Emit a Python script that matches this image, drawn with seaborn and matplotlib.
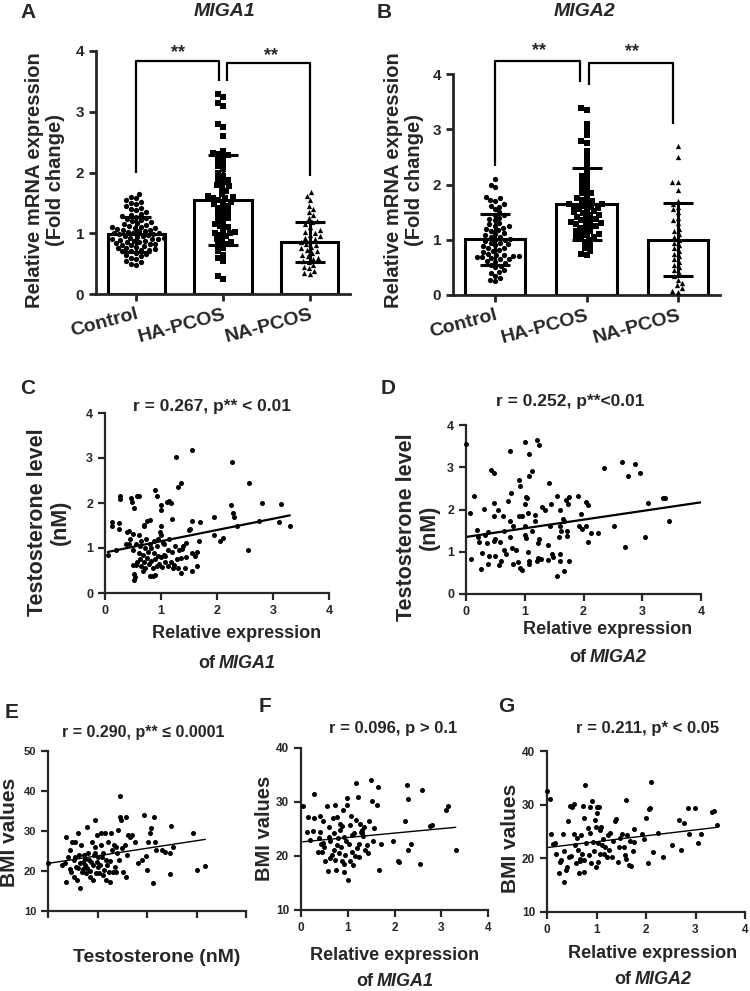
import numpy as np
import matplotlib
matplotlib.use("Agg")
import matplotlib.pyplot as plt
import seaborn as sns

W, H = 750, 991

GROUPS = ["Control", "HA-PCOS", "NA-PCOS"]
MARKERS = ["o", "s", "^"]

# Panel A: MIGA1 relative mRNA (fold change)
miga1_means = [0.98, 1.55, 0.86]
miga1_sd = [0.29, 0.74, 0.33]
miga1_control = [0.48, 0.50, 0.52, 0.55, 0.58, 0.60, 0.62, 0.65, 0.66, 0.68, 0.70, 0.70, 0.72,
                 0.73, 0.74, 0.75, 0.76, 0.78, 0.79, 0.80, 0.81, 0.82, 0.83, 0.84, 0.85, 0.86,
                 0.87, 0.88, 0.89, 0.90, 0.90, 0.91, 0.92, 0.93, 0.94, 0.95, 0.96, 0.97, 0.98,
                 0.99, 1.00, 1.00, 1.01, 1.02, 1.03, 1.04, 1.05, 1.06, 1.07, 1.08, 1.09, 1.10,
                 1.11, 1.12, 1.14, 1.15, 1.17, 1.18, 1.20, 1.22, 1.24, 1.25, 1.27, 1.28, 1.30,
                 1.32, 1.35, 1.38, 1.40, 1.42, 1.45, 1.48, 1.50, 1.52, 1.55, 1.58, 1.60, 1.65]
miga1_ha = [0.25, 0.30, 0.55, 0.60, 0.65, 0.70, 0.75, 0.80, 0.82, 0.85, 0.88, 0.90, 0.95, 0.97,
            1.00, 1.00, 1.02, 1.05, 1.10, 1.12, 1.15, 1.20, 1.22, 1.25, 1.30, 1.32, 1.35, 1.40,
            1.42, 1.45, 1.48, 1.50, 1.52, 1.55, 1.58, 1.58, 1.60, 1.62, 1.65, 1.70, 1.75, 1.78,
            1.80, 1.85, 1.88, 1.90, 1.95, 2.00, 2.05, 2.10, 2.15, 2.20, 2.25, 2.28, 2.30, 2.32,
            2.35, 2.60, 2.75, 2.80, 3.10, 3.15, 3.25, 3.30]
miga1_na = [0.33, 0.35, 0.38, 0.42, 0.45, 0.48, 0.52, 0.55, 0.58, 0.60, 0.62, 0.65, 0.68, 0.70,
            0.72, 0.75, 0.78, 0.80, 0.82, 0.85, 0.88, 0.90, 0.92, 0.95, 0.97, 1.00, 1.02, 1.05,
            1.10, 1.15, 1.18, 1.20, 1.25, 1.30, 1.35, 1.40, 1.45, 1.55, 1.62, 1.68]

# Panel B: MIGA2 relative mRNA (fold change)
miga2_means = [1.01, 1.65, 1.00]
miga2_sd = [0.46, 0.65, 0.66]
miga2_control = [0.25, 0.28, 0.30, 0.35, 0.40, 0.42, 0.45, 0.50, 0.52, 0.55, 0.58, 0.60, 0.62,
                 0.65, 0.65, 0.67, 0.68, 0.68, 0.70, 0.70, 0.72, 0.72, 0.75, 0.78, 0.80, 0.82,
                 0.85, 0.85, 0.88, 0.90, 0.92, 0.95, 0.95, 0.98, 1.00, 1.00, 1.02, 1.05, 1.05,
                 1.08, 1.10, 1.12, 1.15, 1.18, 1.20, 1.22, 1.25, 1.25, 1.28, 1.30, 1.35, 1.38,
                 1.40, 1.45, 1.45, 1.50, 1.55, 1.60, 1.62, 1.65, 1.70, 1.72, 1.75, 1.78, 1.95,
                 2.00, 2.10]
miga2_ha = [0.72, 0.75, 0.80, 0.85, 0.90, 0.95, 1.00, 1.02, 1.05, 1.05, 1.08, 1.10, 1.12, 1.15,
            1.15, 1.20, 1.22, 1.25, 1.25, 1.28, 1.30, 1.30, 1.32, 1.35, 1.35, 1.38, 1.40, 1.42,
            1.45, 1.45, 1.48, 1.50, 1.52, 1.55, 1.55, 1.58, 1.60, 1.60, 1.62, 1.65, 1.65, 1.68,
            1.70, 1.72, 1.75, 1.80, 1.85, 1.85, 1.90, 1.95, 2.00, 2.05, 2.10, 2.15, 2.20, 2.30,
            2.40, 2.50, 2.60, 2.75, 2.78, 2.90, 3.00, 3.10, 3.35, 3.38]
miga2_na = [0.05, 0.08, 0.12, 0.18, 0.22, 0.28, 0.35, 0.40, 0.45, 0.50, 0.55, 0.60, 0.65, 0.70,
            0.75, 0.80, 0.85, 0.90, 0.95, 1.00, 1.05, 1.10, 1.15, 1.20, 1.30, 1.35, 1.40, 1.50,
            1.55, 1.60, 1.65, 1.70, 1.90, 2.05, 2.05, 2.50, 2.70]

# Panel C: MIGA1 expression vs testosterone (nM)
c_points = [(0.05, 0.85), (0.12, 1.58), (0.12, 1.48), (0.20, 0.95), (0.25, 1.55), (0.25, 1.42),
            (0.27, 2.15), (0.27, 2.08), (0.38, 1.08), (0.40, 1.35), (0.42, 1.38), (0.42, 1.10),
            (0.45, 1.20), (0.47, 2.12), (0.48, 2.02), (0.50, 1.32), (0.50, 0.95), (0.52, 1.88),
            (0.50, 0.62), (0.55, 0.62), (0.52, 0.42), (0.53, 0.35), (0.52, 0.28), (0.55, 1.08),
            (0.57, 2.16), (0.60, 2.16), (0.58, 0.68), (0.60, 0.90), (0.60, 1.30), (0.62, 0.75),
            (0.63, 1.05), (0.65, 1.15), (0.65, 0.60), (0.67, 0.50), (0.68, 0.85), (0.70, 1.50),
            (0.70, 1.52), (0.70, 0.70), (0.72, 1.00), (0.72, 0.55), (0.74, 1.20), (0.75, 0.78),
            (0.75, 1.60), (0.77, 0.92), (0.78, 0.65), (0.80, 1.62), (0.80, 1.10), (0.80, 0.38),
            (0.82, 0.72), (0.83, 1.00), (0.85, 0.55), (0.85, 0.38), (0.87, 0.90), (0.88, 1.15),
            (0.90, 2.30), (0.90, 0.75), (0.90, 0.40), (0.92, 2.15), (0.92, 1.05), (0.93, 0.60),
            (0.95, 0.82), (0.95, 1.20), (0.97, 0.65), (0.98, 1.35), (1.00, 1.95), (1.00, 1.85),
            (1.00, 1.50), (1.00, 1.30), (1.00, 0.80), (1.02, 0.58), (1.03, 1.12), (1.05, 0.85),
            (1.05, 1.10), (1.07, 0.68), (1.08, 0.82), (1.10, 2.02), (1.12, 0.60), (1.13, 0.95),
            (1.15, 2.05), (1.15, 1.20), (1.17, 0.70), (1.18, 2.00), (1.20, 1.65), (1.20, 0.92),
            (1.22, 0.55), (1.23, 0.62), (1.25, 1.05), (1.27, 3.02), (1.28, 0.75), (1.30, 2.35),
            (1.30, 0.55), (1.32, 0.95), (1.35, 2.45), (1.35, 0.45), (1.35, 0.78), (1.37, 0.98),
            (1.40, 1.05), (1.42, 0.55), (1.45, 1.12), (1.45, 0.80), (1.50, 1.40), (1.52, 1.42),
            (1.55, 1.60), (1.55, 0.50), (1.55, 3.18), (1.55, 0.88), (1.60, 0.82), (1.65, 0.60),
            (1.65, 0.92), (1.68, 1.15), (1.70, 1.58), (1.95, 1.70), (1.95, 1.30), (2.05, 1.15),
            (2.10, 1.22), (2.25, 1.95), (2.28, 1.78), (2.30, 1.70), (2.27, 2.92), (2.35, 1.48),
            (2.55, 0.95), (2.58, 2.45), (2.80, 2.00), (2.75, 1.60), (3.10, 1.58), (3.15, 1.98),
            (3.30, 1.48)]
c_fit = (0.90, 0.25)   # intercept, slope

# Panel D: MIGA2 expression vs testosterone (nM)
d_points = [(0.00, 3.55), (0.07, 1.92), (0.08, 0.82), (0.13, 2.32), (0.18, 1.52), (0.20, 1.35),
            (0.22, 1.22), (0.25, 0.58), (0.28, 0.98), (0.30, 2.02), (0.32, 1.40), (0.35, 1.20),
            (0.37, 0.72), (0.38, 1.47), (0.40, 0.90), (0.43, 2.93), (0.47, 2.87), (0.47, 2.15),
            (0.48, 1.85), (0.47, 1.25), (0.50, 0.90), (0.50, 1.30), (0.55, 2.00), (0.57, 0.68),
            (0.60, 0.78), (0.58, 1.22), (0.63, 1.85), (0.65, 1.50), (0.65, 1.05), (0.68, 0.95),
            (0.72, 2.20), (0.75, 1.72), (0.75, 3.38), (0.77, 2.40), (0.75, 1.35), (0.78, 1.10),
            (0.80, 0.72), (0.80, 1.62), (0.85, 1.05), (0.88, 0.75), (0.90, 1.85), (0.90, 2.70),
            (0.92, 2.55), (0.92, 0.62), (0.95, 0.57), (0.95, 1.85), (1.00, 3.60), (1.02, 2.30),
            (1.03, 2.28), (1.00, 2.12), (1.00, 1.60), (1.00, 1.40), (1.02, 1.32), (1.05, 1.92),
            (1.05, 1.00), (1.07, 0.78), (1.07, 0.70), (1.08, 3.32), (1.07, 2.80), (1.12, 1.48),
            (1.13, 2.90), (1.17, 1.88), (1.18, 1.72), (1.20, 0.78), (1.22, 0.85), (1.22, 1.20),
            (1.20, 3.65), (1.25, 3.52), (1.25, 1.30), (1.28, 0.82), (1.30, 2.05), (1.35, 2.00),
            (1.40, 1.15), (1.40, 0.80), (1.42, 2.62), (1.43, 1.62), (1.45, 2.12), (1.48, 0.88),
            (1.47, 0.95), (1.55, 2.33), (1.55, 0.42), (1.58, 1.35), (1.60, 2.00), (1.60, 1.62),
            (1.62, 1.48), (1.60, 0.78), (1.60, 0.95), (1.65, 1.78), (1.67, 1.72), (1.67, 0.55),
            (1.70, 2.22), (1.72, 1.48), (1.72, 1.38), (1.73, 2.12), (1.75, 2.30), (1.75, 0.78),
            (1.90, 2.33), (1.93, 1.62), (1.95, 1.90), (1.98, 1.55), (2.05, 2.18), (2.07, 2.10),
            (2.05, 1.62), (2.08, 1.22), (2.12, 1.45), (2.25, 1.45), (2.35, 2.98), (2.52, 1.62),
            (2.65, 3.12), (2.70, 1.12), (2.75, 2.80), (2.88, 3.08), (2.97, 2.86), (3.05, 1.35),
            (3.10, 2.15), (3.35, 2.27), (3.38, 2.28), (3.45, 1.73)]
d_fit = (1.35, 0.205)

# Panel E: testosterone vs BMI
e_points = [(0.00, 22.1), (0.28, 21.4), (0.37, 28.6), (0.37, 17.3), (0.35, 21.9), (0.40, 23.6),
            (0.44, 25.3), (0.45, 20.4), (0.47, 19.8), (0.49, 27.3), (0.52, 22.8), (0.52, 18.6),
            (0.54, 27.2), (0.56, 21.1), (0.59, 17.8), (0.61, 29.4), (0.63, 24.0), (0.64, 21.9),
            (0.65, 15.7), (0.67, 26.5), (0.69, 19.8), (0.71, 22.3), (0.72, 24.0), (0.74, 21.5),
            (0.76, 19.4), (0.78, 31.1), (0.79, 20.7), (0.81, 24.4), (0.83, 22.8), (0.84, 18.6),
            (0.86, 22.3), (0.88, 27.3), (0.90, 21.5), (0.91, 17.8), (0.92, 24.0), (0.94, 32.8),
            (0.95, 26.1), (0.96, 19.4), (0.98, 22.3), (0.99, 29.0), (1.01, 23.6), (1.03, 19.4),
            (1.05, 21.5), (1.07, 26.5), (1.08, 29.4), (1.10, 23.6), (1.11, 19.0), (1.13, 20.3),
            (1.15, 29.6), (1.17, 22.8), (1.18, 17.8), (1.19, 21.5), (1.21, 27.3), (1.23, 19.8),
            (1.26, 17.3), (1.28, 29.4), (1.30, 25.3), (1.31, 19.8), (1.33, 26.5), (1.35, 21.1),
            (1.37, 26.1), (1.38, 19.8), (1.42, 30.3), (1.43, 22.8), (1.45, 33.4), (1.46, 38.8),
            (1.48, 32.8), (1.50, 25.7), (1.52, 19.8), (1.55, 26.5), (1.57, 33.4), (1.58, 18.6),
            (1.60, 24.0), (1.62, 29.0), (1.65, 28.6), (1.69, 29.0), (1.75, 27.3), (1.82, 22.1),
            (1.89, 22.8), (1.94, 34.0), (1.97, 23.8), (1.99, 20.3), (2.02, 27.3), (2.07, 29.4),
            (2.09, 30.7), (2.12, 16.9), (2.14, 33.6), (2.16, 27.3), (2.18, 25.3), (2.31, 25.3),
            (2.36, 24.8), (2.46, 19.3), (2.46, 24.6), (2.49, 31.3), (2.53, 26.1), (2.92, 29.4),
            (3.01, 20.3), (3.18, 21.3), (0.60, 20.8), (0.75, 23.1), (0.85, 20.0), (1.00, 20.9),
            (1.12, 24.6), (0.70, 20.4), (0.95, 24.6), (1.25, 22.4), (0.55, 23.4), (1.40, 24.5)]
e_fit = (21.9, 1.89)

# Panel F: MIGA1 expression vs BMI
f_points = [(0.04, 29.3), (0.14, 27.3), (0.13, 24.4), (0.20, 23.0), (0.27, 31.4), (0.27, 27.1),
            (0.26, 24.7), (0.38, 23.3), (0.40, 27.4), (0.41, 24.4), (0.43, 22.3), (0.36, 20.7),
            (0.45, 20.7), (0.48, 26.4), (0.50, 21.7), (0.52, 19.0), (0.55, 29.3), (0.57, 17.3),
            (0.59, 25.4), (0.63, 22.7), (0.68, 27.0), (0.70, 24.2), (0.71, 21.1), (0.73, 29.4),
            (0.73, 19.3), (0.75, 17.4), (0.78, 27.3), (0.80, 23.3), (0.82, 20.5), (0.84, 24.9),
            (0.85, 21.6), (0.87, 19.0), (0.90, 28.6), (0.91, 23.6), (0.93, 17.1), (0.95, 20.2),
            (0.98, 30.8), (0.99, 29.4), (1.00, 15.6), (1.02, 22.2), (1.04, 19.0), (1.05, 25.7),
            (1.08, 27.4), (1.09, 20.8), (1.12, 18.3), (1.14, 24.2), (1.17, 33.5), (1.18, 26.7),
            (1.19, 21.4), (1.21, 30.9), (1.23, 22.3), (1.25, 19.9), (1.28, 24.5), (1.31, 24.2),
            (1.34, 25.4), (1.37, 21.1), (1.41, 22.0), (1.44, 20.5), (1.46, 26.4), (1.49, 34.1),
            (1.51, 30.1), (1.54, 22.8), (1.56, 25.1), (1.62, 29.4), (1.64, 32.8), (1.66, 17.5),
            (1.71, 22.3), (1.96, 22.8), (2.07, 19.0), (2.10, 18.8), (2.23, 26.4), (2.27, 33.1),
            (2.29, 30.5), (2.29, 21.1), (2.35, 22.2), (2.54, 18.5), (2.58, 32.3), (2.76, 25.6),
            (2.80, 25.7), (3.11, 28.6), (3.15, 29.3), (3.31, 21.2), (0.60, 23.6), (0.66, 20.2),
            (0.77, 22.0), (0.88, 25.6), (0.96, 22.8), (1.10, 23.9), (1.30, 24.8), (1.33, 23.7),
            (0.47, 22.5), (0.62, 19.6), (0.92, 18.6), (1.15, 20.0), (1.27, 26.0), (0.83, 26.0)]
f_fit = (22.6, 0.82)

# Panel G: MIGA2 expression vs BMI
g_points = [(0.00, 32.5), (0.07, 31.1), (0.08, 24.5), (0.13, 22.6), (0.17, 22.8), (0.19, 20.8),
            (0.24, 17.2), (0.26, 19.4), (0.29, 19.7), (0.32, 24.5), (0.34, 15.6), (0.35, 21.3),
            (0.38, 17.8), (0.40, 18.3), (0.42, 26.9), (0.44, 20.3), (0.47, 29.8), (0.48, 20.4),
            (0.50, 29.5), (0.54, 30.1), (0.55, 24.5), (0.57, 22.5), (0.59, 19.1), (0.61, 23.8),
            (0.63, 21.6), (0.65, 17.3), (0.66, 19.9), (0.67, 19.5), (0.69, 24.4), (0.71, 20.9),
            (0.73, 29.8), (0.74, 27.5), (0.74, 19.7), (0.75, 17.5), (0.77, 33.6), (0.79, 22.8),
            (0.82, 25.6), (0.84, 20.6), (0.86, 29.5), (0.87, 24.8), (0.89, 19.2), (0.91, 30.6),
            (0.93, 23.1), (0.94, 21.3), (0.96, 27.2), (0.98, 25.9), (0.99, 18.3), (1.00, 29.6),
            (1.02, 28.4), (1.03, 22.8), (1.04, 19.4), (1.06, 29.5), (1.07, 25.2), (1.08, 20.9),
            (1.10, 25.9), (1.12, 22.4), (1.14, 23.6), (1.16, 20.9), (1.18, 22.2), (1.21, 20.3),
            (1.23, 24.4), (1.25, 21.6), (1.28, 24.7), (1.31, 20.3), (1.34, 23.3), (1.38, 26.9),
            (1.40, 27.3), (1.43, 19.4), (1.45, 22.2), (1.48, 23.8), (1.51, 24.5), (1.55, 22.2),
            (1.57, 20.6), (1.59, 30.9), (1.60, 19.9), (1.61, 24.4), (1.65, 18.8), (1.67, 23.3),
            (1.69, 18.6), (1.73, 21.3), (1.75, 25.5), (1.75, 23.0), (1.92, 24.6), (1.96, 23.6),
            (2.00, 27.6), (2.05, 19.1), (2.07, 29.1), (2.08, 29.4), (2.10, 34.2), (2.14, 21.1),
            (2.25, 24.8), (2.35, 20.2), (2.52, 22.4), (2.66, 27.2), (2.70, 21.6), (2.76, 26.6),
            (2.84, 29.4), (2.87, 24.5), (2.98, 29.4), (3.06, 22.8), (3.11, 24.6), (3.34, 28.6),
            (3.38, 28.8), (3.44, 26.3)]
g_fit = (22.0, 1.10)


def axes_px(fig, left, top, right, bottom):
    """Axes placed by pixel edges (origin top-left)."""
    return fig.add_axes([left / W, 1 - bottom / H, (right - left) / W, (bottom - top) / H])


def ftext(fig, x, y, s, **kw):
    kw.setdefault("ha", "center")
    kw.setdefault("va", "center")
    kw.setdefault("fontweight", "bold")
    return fig.text(x / W, 1 - y / H, s, **kw)


def of_gene(fig, cx, cy, gene, size):
    """'of GENE' with the gene name in italics, centred on (cx, cy)."""
    r = fig.canvas.get_renderer()
    t1 = ftext(fig, 0, cy, "of", fontsize=size, ha="left")
    t2 = ftext(fig, 0, cy, gene, fontsize=size, ha="left", style="italic")
    w1 = t1.get_window_extent(r).width
    w2 = t2.get_window_extent(r).width
    gap = size * 0.3
    left = cx - (w1 + gap + w2) / 2
    t1.set_x(left / W)
    t2.set_x((left + w1 + gap) / W)


def bar_panel(ax, means, sds, groups_vals, ylim, brackets, stars):
    sns.barplot(x=GROUPS, y=means, order=GROUPS, width=0.66, color="white", saturation=1,
                edgecolor="black", linewidth=2.2, errorbar=None, ax=ax, zorder=1)
    for g, vals, m in zip(GROUPS, groups_vals, MARKERS):
        sns.swarmplot(x=[g] * len(vals), y=vals, order=GROUPS, marker=m, color="black",
                      size=3.8, linewidth=0, ax=ax, zorder=3, warn_thresh=1)
    ax.errorbar(range(len(GROUPS)), means, yerr=sds, fmt="none", ecolor="black",
                elinewidth=2.2, capsize=11, capthick=2.2, zorder=4)
    for xs, ys in brackets:
        ax.plot(xs, ys, color="black", lw=1.6, clip_on=False, solid_capstyle="butt")
    for x, y in stars:
        ax.text(x, y, "**", ha="center", va="center", fontsize=13, fontweight="bold")
    ax.set_ylim(*ylim)
    ax.set_yticks([0, 1, 2, 3, 4])
    ax.spines["left"].set_bounds(0, 4)
    sns.despine(ax=ax)
    for s in ("left", "bottom"):
        ax.spines[s].set_linewidth(2.0)
    ax.tick_params(width=2.0, length=5, labelsize=11)
    ax.set_xlabel("")
    ax.set_ylabel("")
    ax.set_xticks(range(3))
    ax.set_xticklabels(GROUPS, rotation=15, ha="right", rotation_mode="anchor",
                       fontsize=14, fontweight="bold")


def scatter_panel(ax, pts, fit, xlim, ylim, ticks_y, label_x=True, full_line=False, fit_lw=1.4,
                  tick_size=9):
    xy = np.array(pts)
    sns.scatterplot(x=xy[:, 0], y=xy[:, 1], ax=ax, s=13, color="black", linewidth=0,
                    clip_on=False, zorder=3)
    x0 = xy[:, 0].min()
    x1 = xlim[1] if full_line else xy[:, 0].max()
    lx = np.array([x0, x1])
    ax.plot(lx, fit[0] + fit[1] * lx, color="black", lw=fit_lw)
    ax.set_xlim(*xlim)
    ax.set_ylim(*ylim)
    ax.set_xticks([0, 1, 2, 3, 4])
    ax.set_yticks(ticks_y)
    if not label_x:
        ax.set_xticklabels([])
    sns.despine(ax=ax)
    for s in ("left", "bottom"):
        ax.spines[s].set_linewidth(1.6)
    ax.tick_params(width=1.6, length=5, labelsize=tick_size)
    ax.set_xlabel("")
    ax.set_ylabel("")


sns.set_style("ticks")
plt.rcParams["font.family"] = ["Liberation Sans", "DejaVu Sans"]
plt.rcParams["font.weight"] = "bold"

fig = plt.figure(figsize=(W / 100, H / 100), dpi=100)

# ---- A ----
ax_a = axes_px(fig, 96, 51, 350, 294)
bar_panel(ax_a, miga1_means, miga1_sd, [miga1_control, miga1_ha, miga1_na], (0, 4),
          brackets=[([0, 0, 0.95, 0.95], [2.0, 3.84, 3.84, 3.5]),
                    ([1.05, 1.05, 2.0, 2.0], [3.5, 3.80, 3.80, 1.95])],
          stars=[(0.48, 3.98), (1.55, 3.93)])
ftext(fig, 28, 12, "A", fontsize=15)
ftext(fig, 225, 12, "MIGA1", fontsize=14, style="italic")
ftext(fig, 45, 180, "Relative mRNA expression\n(Fold change)", fontsize=14.5, rotation=90,
      linespacing=1.15)

# ---- B ----
ax_b = axes_px(fig, 453, 52, 720, 295)
bar_panel(ax_b, miga2_means, miga2_sd, [miga2_control, miga2_ha, miga2_na], (0, 4.4),
          brackets=[([0, 0, 0.93, 0.93], [2.33, 4.24, 4.24, 3.86]),
                    ([1.03, 1.03, 1.95, 1.95], [3.8, 4.2, 4.2, 3.1])],
          stars=[(0.48, 4.43), (1.5, 4.4)])
ftext(fig, 384, 12, "B", fontsize=15)
ftext(fig, 585, 12, "MIGA2", fontsize=14, style="italic")
ftext(fig, 404, 180, "Relative mRNA expression\n(Fold change)", fontsize=14.5, rotation=90,
      linespacing=1.15)

# ---- C ----
ax_c = axes_px(fig, 105, 413, 329, 593)
scatter_panel(ax_c, c_points, c_fit, (0, 4), (0, 4), [0, 1, 2, 3, 4], fit_lw=1.6)
ftext(fig, 28, 389, "C", fontsize=15)
ftext(fig, 212, 406, "r = 0.267, p** < 0.01", fontsize=12.5)
ftext(fig, 49, 522, "Testosterone level\n(nM)", fontsize=15.5, rotation=90, linespacing=1.15)
ftext(fig, 237, 633, "Relative expression", fontsize=13)
of_gene(fig, 237, 663, "MIGA1", 13)

# ---- D ----
ax_d = axes_px(fig, 466, 425, 701, 594)
scatter_panel(ax_d, d_points, d_fit, (0, 4), (0, 4), [0, 1, 2, 3, 4], full_line=True,
              fit_lw=1.6)
ftext(fig, 388, 388, "D", fontsize=15)
ftext(fig, 570, 401, "r = 0.252, p**<0.01", fontsize=12.5)
ftext(fig, 418, 527, "Testosterone level\n(nM)", fontsize=15.5, rotation=90, linespacing=1.15)
ftext(fig, 608, 629, "Relative expression", fontsize=13)
of_gene(fig, 608, 658, "MIGA2", 13)

# ---- E ----
ax_e = axes_px(fig, 48, 751, 246, 911)
scatter_panel(ax_e, e_points, e_fit, (0, 4), (10, 50), [10, 20, 30, 40, 50], label_x=False,
              fit_lw=1.0, tick_size=8)
ftext(fig, 12, 713, "E", fontsize=15)
ftext(fig, 143, 733, "r = 0.290, p** ≤ 0.0001", fontsize=11.5)
ftext(fig, 10, 832, "BMI values", fontsize=15, rotation=90)
ftext(fig, 157, 958, "Testosterone (nM)", fontsize=14)

# ---- F ----
ax_f = axes_px(fig, 301, 748, 488, 910)
scatter_panel(ax_f, f_points, f_fit, (0, 4), (10, 40), [10, 20, 30, 40], fit_lw=1.0,
              tick_size=8.5)
ftext(fig, 265, 707, "F", fontsize=15)
ftext(fig, 393, 728, "r = 0.096, p > 0.1", fontsize=12)
ftext(fig, 265, 828, "BMI values", fontsize=14.5, rotation=90)
ftext(fig, 395, 956, "Relative expression", fontsize=13)
of_gene(fig, 395, 982, "MIGA1", 13)

# ---- G ----
ax_g = axes_px(fig, 547, 751, 745, 912)
scatter_panel(ax_g, g_points, g_fit, (0, 4), (10, 40), [10, 20, 30, 40], fit_lw=1.0,
              tick_size=8.5)
ftext(fig, 506, 707, "G", fontsize=15)
ftext(fig, 648, 729, "r = 0.211, p* < 0.05", fontsize=12)
ftext(fig, 510, 838, "BMI values", fontsize=15, rotation=90)
ftext(fig, 653, 954, "Relative expression", fontsize=13)
of_gene(fig, 653, 980, "MIGA2", 13)

fig.savefig("out.png", dpi=100, facecolor="white")
